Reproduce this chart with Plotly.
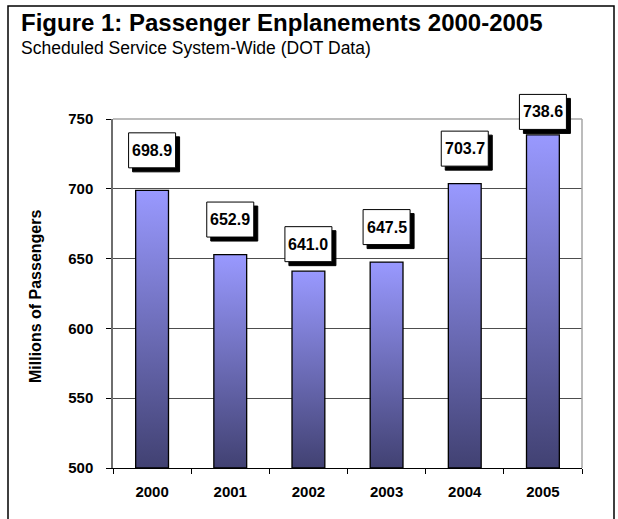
import plotly.graph_objects as go

# Passenger enplanements, scheduled service system-wide (millions)
years = ["2000", "2001", "2002", "2003", "2004", "2005"]
enplanements = [698.9, 652.9, 641.0, 647.5, 703.7, 738.6]
y_ticks = [500, 550, 600, 650, 700, 750]

# ---- layout geometry (pixels) ----
W, H = 618, 519
PL, PR, PT, PB = 113, 582, 119, 468          # plot-area edges
BAR_W = 0.42                                   # bar width as fraction of a category
label_lift = [40, 35, 27, 35, 35, 23]          # label centre above bar top (px)
BOX_W, BOX_H, SHADOW = 47, 35, 4               # value-label box size and shadow offset

FONT = "Liberation Sans, Arial, sans-serif"
BAR_TOP = "#9999FF"
BAR_BOTTOM = "#414172"

X_RANGE = [-0.5, len(years) - 0.5]
Y_RANGE = [y_ticks[0], y_ticks[-1]]


def px(x):
    return (x - PL) / (PR - PL)


def py(y):
    return (PB - y) / (PB - PT)


def data_to_paper(xv, yv):
    return ((xv - X_RANGE[0]) / (X_RANGE[1] - X_RANGE[0]),
            (yv - Y_RANGE[0]) / (Y_RANGE[1] - Y_RANGE[0]))


fig = go.Figure()

base = y_ticks[0]
for i, v in enumerate(enplanements):
    x0, x1 = i - BAR_W / 2, i + BAR_W / 2
    fig.add_trace(go.Scatter(
        x=[x0, x1, x1, x0, x0],
        y=[base, base, v, v, base],
        mode="lines",
        fill="toself",
        fillgradient=dict(type="vertical",
                          colorscale=[[0, BAR_BOTTOM], [1, BAR_TOP]]),
        line=dict(color="black", width=1.3),
        hoverinfo="skip",
        showlegend=False,
    ))

# plot-area frame (top and right edges), drawn over the top gridline
fig.add_shape(type="line", xref="paper", yref="paper", x0=0, x1=1, y0=1, y1=1,
              line=dict(color="#A6A6A6", width=1.5), layer="above")
fig.add_shape(type="line", xref="paper", yref="paper", x0=1, x1=1, y0=0, y1=1,
              line=dict(color="#A6A6A6", width=1.5), layer="above")

# value labels: white box with a black drop shadow, anchored to each bar top
for i, v in enumerate(enplanements):
    lift = label_lift[i]
    ax, ay = data_to_paper(i, v)
    box = dict(type="rect", xref="paper", yref="paper",
               xsizemode="pixel", ysizemode="pixel", xanchor=ax, yanchor=ay,
               layer="above")
    fig.add_shape(x0=-BOX_W / 2 + SHADOW, x1=BOX_W / 2 + SHADOW,
                  y0=lift - BOX_H / 2 - SHADOW, y1=lift + BOX_H / 2 - SHADOW,
                  fillcolor="black", line=dict(color="black", width=1), **box)
    fig.add_shape(x0=-BOX_W / 2, x1=BOX_W / 2,
                  y0=lift - BOX_H / 2, y1=lift + BOX_H / 2,
                  fillcolor="white", line=dict(color="black", width=1), **box)
    fig.add_annotation(text=f"{v:.1f}", x=i, y=v, xref="x", yref="y",
                       yshift=lift, showarrow=False,
                       xanchor="center", yanchor="middle",
                       font=dict(family=FONT, size=16, color="black", weight="bold"))

# title and subtitle
fig.add_annotation(text="Figure 1: Passenger Enplanements 2000-2005",
                   xref="paper", yref="paper", x=px(19), y=py(7),
                   xanchor="left", yanchor="top", showarrow=False,
                   font=dict(family=FONT, size=24, color="black", weight="bold"))
fig.add_annotation(text="Scheduled Service System-Wide (DOT Data)",
                   xref="paper", yref="paper", x=px(19), y=py(36),
                   xanchor="left", yanchor="top", showarrow=False,
                   font=dict(family=FONT, size=17.5, color="black"))

# y-axis title
fig.add_annotation(text="Millions of Passengers", textangle=-90,
                   xref="paper", yref="paper", x=px(35), y=py(297),
                   xanchor="center", yanchor="middle", showarrow=False,
                   font=dict(family=FONT, size=16, color="black", weight="bold"))

# outer border
fig.add_shape(type="rect", xref="paper", yref="paper",
              x0=px(8), x1=px(614), y0=py(6), y1=py(525),
              line=dict(color="black", width=1.5), layer="above")

fig.update_layout(
    width=W, height=H,
    margin=dict(l=PL, r=W - PR, t=PT, b=H - PB),
    paper_bgcolor="white", plot_bgcolor="white",
    font=dict(family=FONT, color="black"),
    showlegend=False,
    xaxis=dict(
        range=X_RANGE,
        tickmode="array", tickvals=list(range(len(years))), ticktext=years,
        ticks="", showgrid=False, zeroline=False,
        showline=True, linecolor="black", linewidth=1,
        tickfont=dict(family=FONT, size=15, color="black", weight="bold"),
        ticklabelstandoff=10,
        minor=dict(tick0=-0.5, dtick=1, ticks="outside", ticklen=5,
                   tickcolor="black", tickwidth=1, showgrid=False),
        fixedrange=True,
    ),
    yaxis=dict(
        range=Y_RANGE,
        tickmode="array", tickvals=y_ticks,
        ticks="outside", ticklen=5, tickcolor="black", tickwidth=1,
        showgrid=True, gridcolor="#4D4D4D", gridwidth=1,
        zeroline=False,
        showline=True, linecolor="#6E6E6E", linewidth=1.5,
        tickfont=dict(family=FONT, size=15, color="black", weight="bold"),
        ticklabelstandoff=10,
        fixedrange=True,
    ),
)

fig.write_html("out.html")
